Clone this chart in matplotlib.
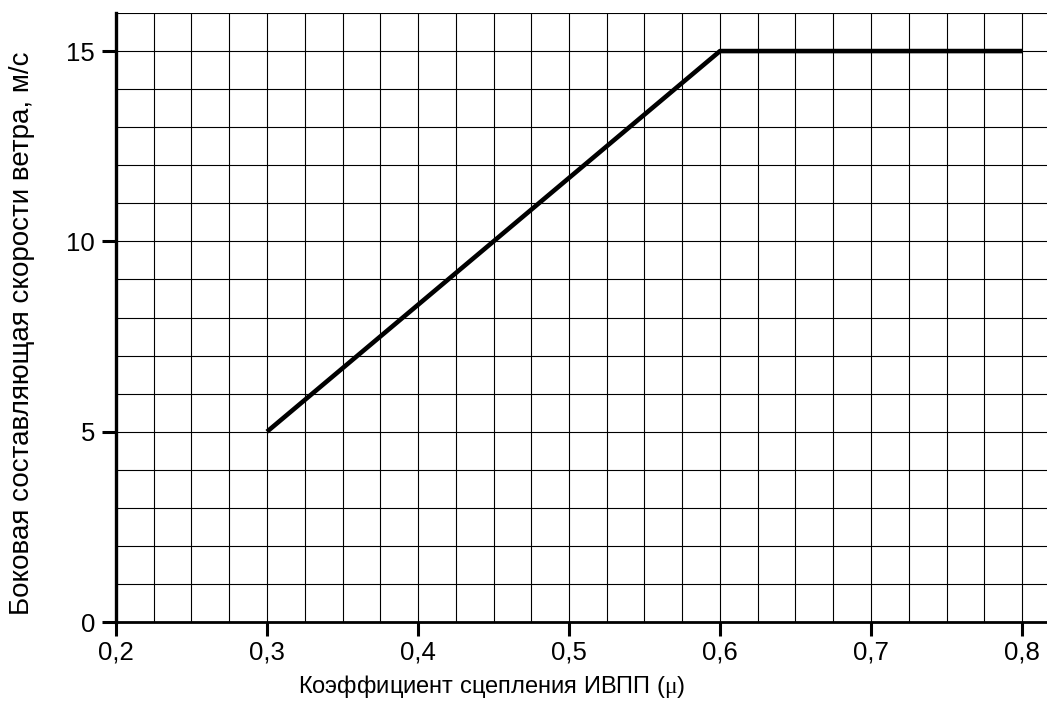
import matplotlib
matplotlib.use("Agg")
import matplotlib.pyplot as plt
import numpy as np
from matplotlib.ticker import MultipleLocator, FuncFormatter

mu = [0.3, 0.6, 0.8]
wind = [5, 15, 15]
xticks = [0.2, 0.3, 0.4, 0.5, 0.6, 0.7, 0.8]
yticks = [0, 5, 10, 15]

plt.rcParams['font.family'] = ['Liberation Sans', 'DejaVu Sans']
plt.rcParams['mathtext.fontset'] = 'custom'
plt.rcParams['mathtext.rm'] = 'Liberation Serif'
plt.rcParams['mathtext.it'] = 'Liberation Serif'

W, H = 1047, 701
fig = plt.figure(figsize=(W / 100, H / 100), dpi=100)
ax = fig.add_axes([116 / W, 1 - 622 / H, 1 - 116 / W, (622 - 13) / H])
ax.set_xlim(0.2, 0.2 + (W - 116) / 1510)
ax.set_ylim(0, 16)

ax.xaxis.set_minor_locator(MultipleLocator(0.025))
ax.yaxis.set_minor_locator(MultipleLocator(1))
ax.set_xticks(xticks)
ax.set_yticks(yticks)
ax.xaxis.set_major_formatter(FuncFormatter(lambda v, p: f"{v:.1f}".replace('.', ',')))
ax.grid(True, which='both', color='black', linewidth=0.8)
ax.set_axisbelow(True)

ax.plot(mu, wind, color='black', linewidth=3.3, solid_capstyle='butt', zorder=3)

for s in ['top', 'right']:
    ax.spines[s].set_visible(False)
ax.spines['left'].set_linewidth(2.4)
ax.spines['bottom'].set_linewidth(2.0)
ax.tick_params(which='major', direction='out', length=10, width=2.2, labelsize=18.5)
ax.tick_params(axis='y', pad=5)
ax.tick_params(axis='x', pad=3)
ax.tick_params(which='minor', length=0)

fig.text(491.5 / W, 1 - 687 / H, r'Коэффициент сцепления ИВПП ($\mathrm{\mu}$)',
         fontsize=17, ha='center', va='center')
fig.text(22 / W, 1 - 333 / H, 'Боковая составляющая скорости ветра, м/с',
         fontsize=20, ha='center', va='center', rotation=90)

fig.savefig('out.png', dpi=100)
